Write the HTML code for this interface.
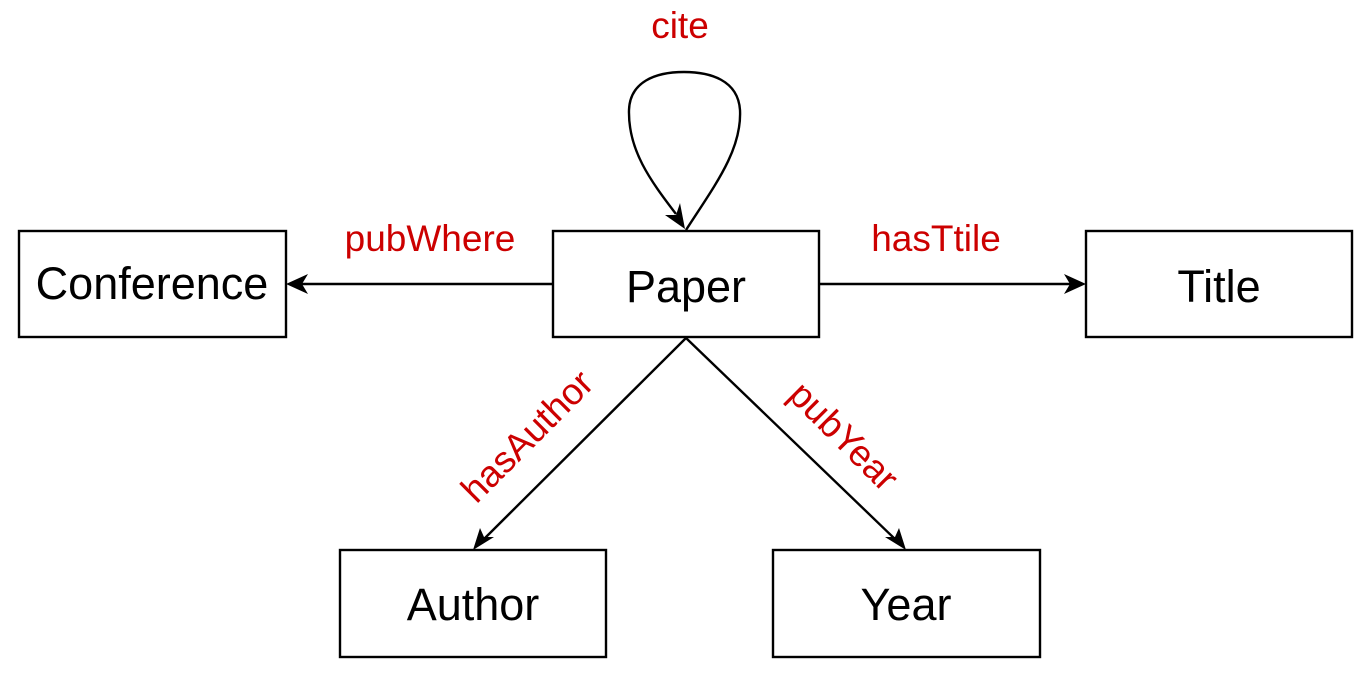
<!DOCTYPE html>
<html><head><meta charset="utf-8"><style>
html,body{margin:0;padding:0;background:#fff;}
svg{display:block;}
</style></head><body>
<svg width="1370" height="696" viewBox="0 0 1370 696" xmlns="http://www.w3.org/2000/svg" font-family="Liberation Sans, Arial, sans-serif">
<g fill="none" stroke="#000" stroke-width="2.4">
<rect x="19" y="231" width="267" height="106"/>
<rect x="553" y="231" width="266" height="106"/>
<rect x="1086" y="231" width="266" height="106"/>
<rect x="340" y="550" width="266" height="107"/>
<rect x="773" y="550" width="267" height="107"/>
<line x1="553" y1="284" x2="300" y2="284"/>
<line x1="819" y1="284" x2="1072" y2="284"/>
<line x1="686" y1="338" x2="483" y2="540"/>
<line x1="686" y1="338" x2="896" y2="540"/>
<path d="M686 230 C715 185 742 150 740 110 C738 80 710 72 684 72 C655 72 630 82 629 110 C628 150 650 180 676 214"/>
</g>
<g fill="#000">
<polygon points="286,284 308,274 302,284 308,294"/>
<polygon points="1086,284 1064,274 1070,284 1064,294"/>
<polygon points="473,550 480,528 484,537 494,537"/>
<polygon points="906,550 885,537 895,537 899,528"/>
<polygon points="685,229 665,215 676,215 680,203"/>
</g>
<g font-size="45" fill="#000" text-anchor="middle">
<text x="152" y="299">Conference</text>
<text x="686" y="302">Paper</text>
<text x="1219" y="302">Title</text>
<text x="473" y="620">Author</text>
<text x="906" y="620">Year</text>
</g>
<g font-size="37" fill="#cc0000" text-anchor="middle">
<text x="680" y="38">cite</text>
<text x="430" y="251">pubWhere</text>
<text x="936" y="251">hasTtile</text>
<text x="0" y="0" transform="translate(536,445) rotate(-45)">hasAuthor</text>
<text x="0" y="0" transform="translate(835,445) rotate(45)">pubYear</text>
</g>
</svg>
</body></html>
